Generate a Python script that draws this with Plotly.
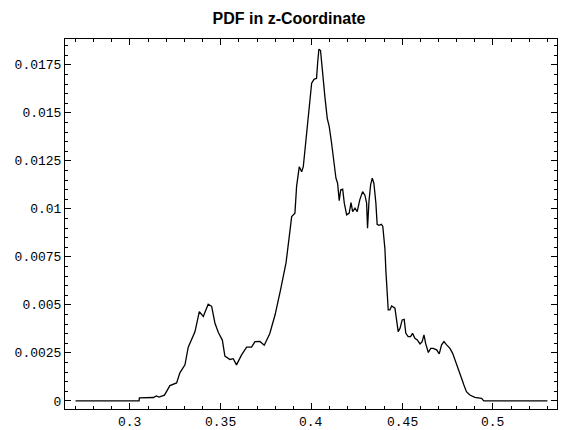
import plotly.graph_objects as go

title_text = "PDF in z-Coordinate"

z_coord = [
    0.27, 0.305, 0.3052, 0.313, 0.3145, 0.316, 0.319, 0.322, 0.3257, 0.3275,
    0.3303, 0.3321, 0.3358, 0.3382, 0.3404, 0.3431, 0.345, 0.3468, 0.3487, 0.3509,
    0.3523, 0.3551, 0.3569, 0.3587, 0.3615, 0.3643, 0.367, 0.3689, 0.3716, 0.374,
    0.377, 0.380, 0.383, 0.386, 0.3882, 0.3891, 0.3909, 0.3918, 0.3933, 0.3946,
    0.3955, 0.3973, 0.3988, 0.4001, 0.4014, 0.4028, 0.4034, 0.4041, 0.4050, 0.4056,
    0.4061, 0.4074, 0.4087, 0.4098, 0.4111, 0.4124, 0.4135, 0.4144, 0.4153, 0.4161,
    0.4172, 0.4181, 0.4194, 0.4208, 0.4218, 0.4227, 0.424, 0.4252, 0.4267, 0.4282,
    0.4295, 0.4304, 0.4309, 0.4317, 0.4326, 0.4335, 0.4344, 0.4355, 0.4362, 0.4372,
    0.4385, 0.4393, 0.4405, 0.441, 0.4423, 0.4432, 0.4442, 0.446, 0.4478, 0.4488,
    0.45, 0.4511, 0.452, 0.4533, 0.4546, 0.4557, 0.457, 0.4583, 0.4598, 0.461,
    0.462, 0.4629, 0.4644, 0.4657, 0.4671, 0.469, 0.4704, 0.4717, 0.473, 0.4745,
    0.4763, 0.4778, 0.479, 0.4803, 0.4814, 0.4827, 0.484, 0.4854, 0.4873, 0.49,
    0.4937, 0.495, 0.53,
]

pdf_values = [
    0.0, 0.0, 0.00016, 0.00018, 0.00026, 0.0002, 0.0003, 0.0008, 0.00094, 0.00146,
    0.00188, 0.0028, 0.0036, 0.00465, 0.0044, 0.00504, 0.00493, 0.00406, 0.00356, 0.00317,
    0.00234, 0.00216, 0.0022, 0.00188, 0.0024, 0.0028, 0.0028, 0.00309, 0.0031, 0.0029,
    0.0035, 0.0045, 0.0058, 0.0072, 0.0089, 0.0096, 0.00978, 0.01116, 0.0122, 0.01194,
    0.0122, 0.01394, 0.01516, 0.01655, 0.01675, 0.0168, 0.01759, 0.01832, 0.01825, 0.01759,
    0.0169, 0.01585, 0.01472, 0.01429, 0.01342, 0.01255, 0.0116, 0.01134, 0.01043, 0.01099,
    0.01103, 0.0103, 0.00969, 0.00978, 0.01033, 0.00986, 0.01004, 0.00986, 0.0105, 0.0109,
    0.0107, 0.0103, 0.009, 0.0104, 0.01125, 0.0116, 0.01134, 0.0103, 0.0092, 0.00915,
    0.0092, 0.0091, 0.0079, 0.0068, 0.00474, 0.00474, 0.00495, 0.00483, 0.00361, 0.00378,
    0.00422, 0.00425, 0.00352, 0.00335, 0.00335, 0.00352, 0.00326, 0.00318, 0.00297, 0.00309,
    0.00344, 0.003, 0.00252, 0.00274, 0.00274, 0.00266, 0.00245, 0.00292, 0.00309, 0.00292,
    0.00274, 0.00248, 0.00214, 0.00179, 0.00144, 0.00118, 0.00083, 0.00048, 0.00031, 0.00019,
    0.00014, 0.0, 0.0,
]

x_tick_vals = [0.3, 0.35, 0.4, 0.45, 0.5]
x_tick_text = ["0.3", "0.35", "0.4", "0.45", "0.5"]
y_tick_vals = [0, 0.0025, 0.005, 0.0075, 0.01, 0.0125, 0.015, 0.0175]
y_tick_text = ["0", "0.0025", "0.005", "0.0075", "0.01", "0.0125", "0.015", "0.0175"]

fig = go.Figure()
fig.add_trace(go.Scatter(
    x=z_coord, y=pdf_values, mode="lines",
    line=dict(color="black", width=1.3),
    showlegend=False, hoverinfo="skip",
))

tick_font = dict(family="Liberation Mono, Courier New, monospace", size=13, color="black")
xlab_font = dict(family="Liberation Mono, Courier New, monospace", size=13, color="black")

fig.update_layout(
    width=563, height=430,
    margin=dict(l=65, r=6, t=39, b=21, autoexpand=False),
    paper_bgcolor="white", plot_bgcolor="white",
    title=dict(text="<b>" + title_text + "</b>", x=(289 - 65) / 492, xref="paper",
               xanchor="center", y=1 - 18.5 / 430, yanchor="middle",
               font=dict(family="Liberation Sans, Arial, sans-serif", size=16, color="black")),
)

# x tick labels placed as annotations just under the frame
for v, t in zip(x_tick_vals, x_tick_text):
    fig.add_annotation(x=v, xref="x", y=0, yref="paper", text=t, showarrow=False,
                       xanchor="center", yanchor="middle", yshift=-13.5, font=xlab_font)

fig.update_xaxes(
    range=[0.2642, 0.5353], showgrid=False, zeroline=False, automargin=False,
    showline=True, linecolor="black", linewidth=1, mirror="allticks",
    ticks="inside", ticklen=6, tickcolor="black", tickwidth=1,
    tickvals=x_tick_vals, showticklabels=False,
    minor=dict(ticks="inside", dtick=0.01, tick0=0.0, ticklen=3, tickcolor="black", showgrid=False),
)
fig.update_yaxes(
    range=[-0.00042, 0.01885], showgrid=False, zeroline=False, automargin=False,
    showline=True, linecolor="black", linewidth=1, mirror="allticks",
    ticks="inside", ticklen=6, tickcolor="black", tickwidth=1,
    tickvals=y_tick_vals, ticktext=y_tick_text, tickfont=tick_font,
    minor=dict(ticks="inside", dtick=0.0005, tick0=0.0, ticklen=3, tickcolor="black", showgrid=False),
)

fig.write_html(
    "out.html",
    config={"displayModeBar": False},
    post_script="document.body.style.margin='0';document.body.style.overflow='hidden';",
)
